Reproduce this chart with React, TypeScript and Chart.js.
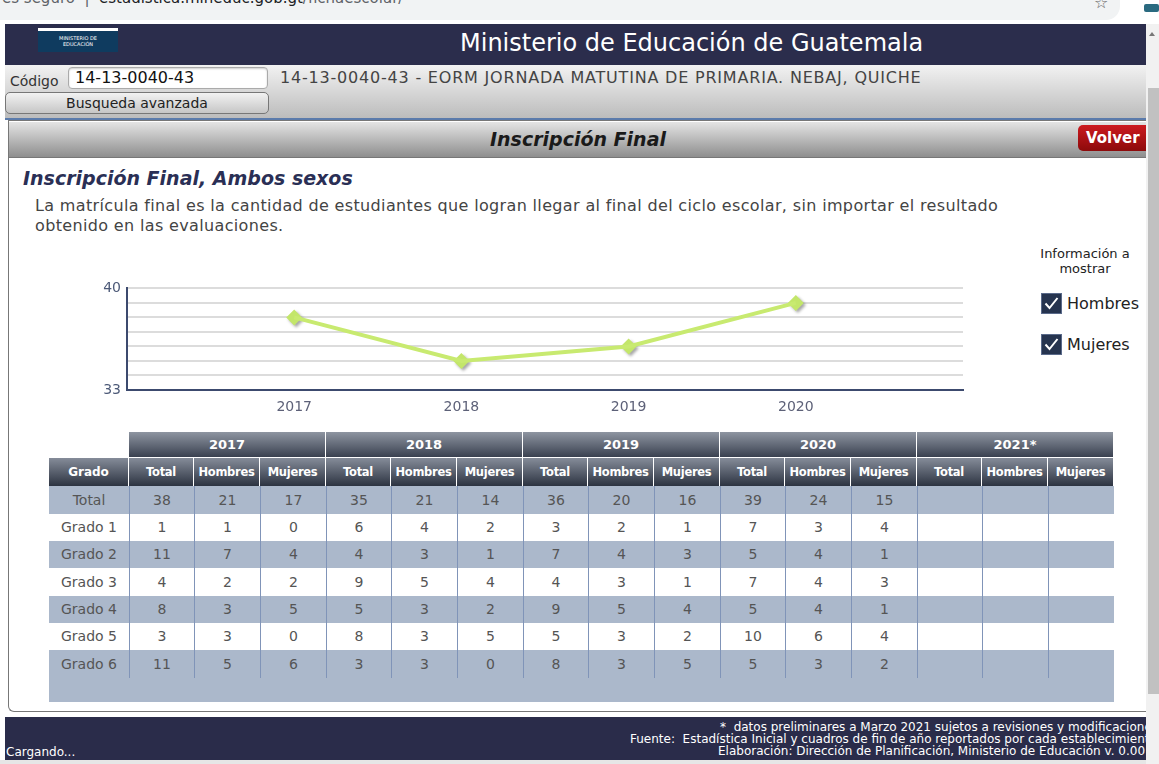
import React, { useEffect, useRef } from 'react';
import { Chart, registerables } from 'chart.js';
Chart.register(...registerables);

// ---- chart data ----
const chartYears = [2017, 2018, 2019, 2020];
const chartTotals = [38, 35, 36, 39];
const yGridValues = [33, 34, 35, 36, 37, 38, 39, 40];
const yTickLabels = [33, 40];

// ---- table data ----
const tableYears = ['2017', '2018', '2019', '2020', '2021*'];
const subColumns = ['Total', 'Hombres', 'Mujeres'];
const grades = ['Total', 'Grado 1', 'Grado 2', 'Grado 3', 'Grado 4', 'Grado 5', 'Grado 6'];
const total2017 = [38, 1, 11, 4, 8, 3, 11];
const hombres2017 = [21, 1, 7, 2, 3, 3, 5];
const mujeres2017 = [17, 0, 4, 2, 5, 0, 6];
const total2018 = [35, 6, 4, 9, 5, 8, 3];
const hombres2018 = [21, 4, 3, 5, 3, 3, 3];
const mujeres2018 = [14, 2, 1, 4, 2, 5, 0];
const total2019 = [36, 3, 7, 4, 9, 5, 8];
const hombres2019 = [20, 2, 4, 3, 5, 3, 3];
const mujeres2019 = [16, 1, 3, 1, 4, 2, 5];
const total2020 = [39, 7, 5, 7, 5, 10, 5];
const hombres2020 = [24, 3, 4, 4, 4, 6, 3];
const mujeres2020 = [15, 4, 1, 3, 1, 4, 2];
const total2021: (number | null)[] = [null, null, null, null, null, null, null];
const hombres2021: (number | null)[] = [null, null, null, null, null, null, null];
const mujeres2021: (number | null)[] = [null, null, null, null, null, null, null];

const yearColumns = [
  [total2017, hombres2017, mujeres2017],
  [total2018, hombres2018, mujeres2018],
  [total2019, hombres2019, mujeres2019],
  [total2020, hombres2020, mujeres2020],
  [total2021, hombres2021, mujeres2021],
];

const FONT = '"DejaVu Sans", Verdana, sans-serif';
const ROW_H = [28, 27, 27, 28, 27, 27, 28];
const GRADE_W = 80;
const SUB_W = [65, 66, 66];

const shadowPlugin = {
  id: 'pointShadow',
  beforeDatasetDraw(chart: any, args: any) {
    if (args.index === 1) {
      const ctx = chart.ctx;
      ctx.save();
      ctx.shadowColor = 'rgba(0,0,0,0.35)';
      ctx.shadowOffsetX = 2;
      ctx.shadowOffsetY = 2;
      ctx.shadowBlur = 3;
    }
  },
  afterDatasetDraw(chart: any, args: any) {
    if (args.index === 1) chart.ctx.restore();
  },
};

function LineChart() {
  const ref = useRef<HTMLCanvasElement>(null);
  useEffect(() => {
    if (!ref.current) return;
    const pts = chartYears.map((y, i) => ({ x: y, y: chartTotals[i] }));
    const chart = new Chart(ref.current, {
      type: 'line',
      data: {
        datasets: [
          {
            data: pts,
            borderColor: '#c8ea70',
            borderWidth: 4,
            pointRadius: 0,
            tension: 0,
          },
          {
            data: pts,
            showLine: false,
            pointStyle: 'rectRot',
            pointRadius: 8,
            pointBorderWidth: 0,
            pointBackgroundColor: '#c3e66a',
            borderColor: '#c3e66a',
          },
        ],
      },
      options: {
        animation: false,
        responsive: false,
        maintainAspectRatio: false,
        layout: { padding: { left: 0, right: 10, top: 10, bottom: 0 } },
        plugins: { legend: { display: false }, tooltip: { enabled: false } },
        scales: {
          x: {
            type: 'linear',
            min: 2016,
            max: 2021,
            ticks: {
              stepSize: 1,
              autoSkip: false,
              maxRotation: 0,
              padding: 1,
              color: '#5d6178',
              font: { family: FONT, size: 14 },
              callback: (v: any) => (chartYears.includes(Number(v)) ? String(v) : ''),
            },
            grid: { display: false },
            border: { color: '#3c4a6e', width: 2 },
            afterFit: (s: any) => {
              s.height = 32;
            },
          },
          y: {
            min: 33,
            max: 40,
            afterBuildTicks: (s: any) => {
              s.ticks = yGridValues.map((v) => ({ value: v }));
            },
            ticks: {
              autoSkip: false,
              padding: 6,
              color: '#4d5a78',
              font: { family: FONT, size: 14 },
              callback: (v: any) => (yTickLabels.includes(Number(v)) ? String(v) : ''),
            },
            grid: { color: '#dcdcdc', lineWidth: 2, drawTicks: false },
            border: { color: '#3c4a6e', width: 2 },
            afterFit: (s: any) => {
              s.width = 60;
            },
          },
        },
      },
      plugins: [shadowPlugin],
    } as any);
    return () => chart.destroy();
  }, []);
  return (
    <canvas
      ref={ref}
      width={906}
      height={148}
      style={{ position: 'absolute', left: 67, top: 274, width: 906, height: 148 }}
    />
  );
}

function CheckBox({ top, label }: { top: number; label: string }) {
  return (
    <>
      <div
        style={{
          position: 'absolute',
          left: 1041,
          top,
          width: 21,
          height: 21,
          background: '#26344f',
          border: '1px solid #5a6a8a',
          boxSizing: 'border-box',
        }}
      >
        <svg width="19" height="19" viewBox="0 0 19 19" style={{ display: 'block' }}>
          <path d="M3.5 9.5 L7.5 14 L15.5 4" stroke="#fff" strokeWidth="2" fill="none" />
        </svg>
      </div>
      <div style={{ position: 'absolute', left: 1067, top: top + 1, fontSize: 16, color: '#222', lineHeight: '19px' }}>
        {label}
      </div>
    </>
  );
}

const headGrad = 'linear-gradient(#858c99, #2c3341)';
const yearGrad = 'linear-gradient(#8e95a1, #3a4150)';

function DataTable() {
  const yearW = SUB_W.reduce((a, b) => a + b, 0);
  const totalW = GRADE_W + yearW * tableYears.length;
  return (
    <div style={{ position: 'absolute', left: 49, top: 432, width: totalW }}>
      <div style={{ display: 'flex', height: 26 }}>
        <div style={{ width: GRADE_W }} />
        {tableYears.map((y) => (
          <div
            key={y}
            style={{
              width: yearW,
              boxSizing: 'border-box',
              background: yearGrad,
              color: '#fff',
              fontWeight: 'bold',
              fontSize: 13,
              textAlign: 'center',
              lineHeight: '26px',
              borderRight: '1px solid #fff',
              borderBottom: '1px solid #fff',
            }}
          >
            {y}
          </div>
        ))}
      </div>
      <div style={{ display: 'flex', height: 28 }}>
        <div
          style={{
            width: GRADE_W,
            boxSizing: 'border-box',
            background: headGrad,
            color: '#fff',
            fontWeight: 'bold',
            fontSize: 12,
            textAlign: 'center',
            lineHeight: '28px',
            borderRight: '1px solid #fff',
          }}
        >
          Grado
        </div>
        {tableYears.map((y) =>
          subColumns.map((c, j) => (
            <div
              key={y + c}
              style={{
                width: SUB_W[j],
                boxSizing: 'border-box',
                background: headGrad,
                color: '#fff',
                fontWeight: 'bold',
                fontSize: 11.5,
                letterSpacing: -0.3,
                textAlign: 'center',
                lineHeight: '28px',
                borderRight: '1px solid #fff',
                whiteSpace: 'nowrap',
                overflow: 'hidden',
              }}
            >
              {c}
            </div>
          ))
        )}
      </div>
      {grades.map((g, r) => (
        <div
          key={g}
          style={{ display: 'flex', height: ROW_H[r], background: r % 2 === 0 ? '#abb8cb' : '#ffffff' }}
        >
          <div style={{ width: GRADE_W, textAlign: 'center', fontSize: 14, color: '#555', lineHeight: ROW_H[r] + 'px' }}>
            {g}
          </div>
          {yearColumns.map((cols, yi) =>
            cols.map((col, j) => (
              <div
                key={yi + '-' + j}
                style={{
                  width: SUB_W[j],
                  boxSizing: 'border-box',
                  borderLeft: '1px solid #8094b8',
                  textAlign: 'center',
                  fontSize: 14,
                  color: '#555',
                  lineHeight: ROW_H[r] + 'px',
                }}
              >
                {col[r] === null ? '' : col[r]}
              </div>
            ))
          )}
        </div>
      ))}
      <div style={{ height: 24, background: '#abb8cb' }} />
    </div>
  );
}

export default function App() {
  return (
    <div
      style={{
        position: 'fixed',
        left: 0,
        top: 0,
        width: 1159,
        height: 764,
        overflow: 'hidden',
        background: '#fff',
        fontFamily: FONT,
      }}
    >
      {/* browser bar */}
      <div style={{ position: 'absolute', left: 0, top: 0, width: 1120, height: 20, background: '#f1f3f4', borderRadius: '0 0 14px 0', overflow: 'hidden' }}>
        <div style={{ position: 'absolute', left: 2, top: -11, fontSize: 15, color: '#5f6368', whiteSpace: 'nowrap' }}>
          es seguro &nbsp;|&nbsp; <span style={{ color: '#202124' }}>estadistica.mineduc.gob.gt</span>/fichaescolar/
        </div>
      </div>
      <div style={{ position: 'absolute', left: 1094, top: -7, fontSize: 16, color: '#666' }}>☆</div>
      <div style={{ position: 'absolute', left: 1144, top: 4, width: 15, height: 8, background: '#2a6a80', borderRadius: 2 }} />

      {/* header */}
      <div style={{ position: 'absolute', left: 5, top: 24, width: 1141, height: 41, background: '#2b2d4c', overflow: 'hidden' }}>
        <div style={{ position: 'absolute', left: 520, top: -31, fontSize: 30, color: '#fff', whiteSpace: 'nowrap' }}>Ficha Escolar</div>
        <div style={{ position: 'absolute', left: 33, top: 4, width: 80, height: 24, background: '#0f3b5f' }}>
          <div style={{ height: 3, background: '#fff' }} />
          <div style={{ fontSize: 5, color: '#fff', textAlign: 'center', lineHeight: '6px', marginTop: 4 }}>
            MINISTERIO DE
            <br />
            EDUCACIÓN
          </div>
        </div>
        <div style={{ position: 'absolute', left: 455, top: 4, fontSize: 24, color: '#fff', whiteSpace: 'nowrap', lineHeight: '30px' }}>
          Ministerio de Educación de Guatemala
        </div>
      </div>

      {/* search bar */}
      <div
        style={{
          position: 'absolute',
          left: 5,
          top: 65,
          width: 1141,
          height: 53,
          background: 'linear-gradient(#f2f2f2, #bcbcbc)',
          borderBottom: '2px solid #5b7bab',
        }}
      >
        <div style={{ position: 'absolute', left: 5, top: 8, fontSize: 14, color: '#333' }}>Código</div>
        <div
          style={{
            position: 'absolute',
            left: 63,
            top: 2,
            width: 200,
            height: 22,
            boxSizing: 'border-box',
            background: '#fff',
            border: '1px solid #aaa',
            borderRadius: 4,
            boxShadow: 'inset 0 1px 2px rgba(0,0,0,0.2)',
            fontSize: 16,
            color: '#111',
            paddingLeft: 6,
            lineHeight: '20px',
          }}
        >
          14-13-0040-43
        </div>
        <div style={{ position: 'absolute', left: 275, top: 3, fontSize: 16, letterSpacing: 0.8, color: '#444', whiteSpace: 'nowrap' }}>
          14-13-0040-43 - EORM JORNADA MATUTINA DE PRIMARIA. NEBAJ, QUICHE
        </div>
        <div
          style={{
            position: 'absolute',
            left: 0,
            top: 27,
            width: 264,
            height: 22,
            boxSizing: 'border-box',
            border: '1px solid #777',
            borderRadius: 5,
            background: 'linear-gradient(#f2f2f2, #c6c6c6)',
            textAlign: 'center',
            fontSize: 14,
            color: '#222',
            lineHeight: '20px',
          }}
        >
          Busqueda avanzada
        </div>
      </div>

      {/* panel */}
      <div
        style={{
          position: 'absolute',
          left: 8,
          top: 120,
          width: 1138,
          height: 592,
          boxSizing: 'border-box',
          border: '1px solid #777',
          borderRight: 'none',
          borderBottomLeftRadius: 6,
          background: '#fff',
          overflow: 'hidden',
        }}
      >
        <div
          style={{
            position: 'absolute',
            left: 0,
            top: 1,
            width: 1138,
            height: 35,
            background: 'linear-gradient(#e4e4e4, #8e8e8e)',
            borderBottom: '1px solid #777',
            textAlign: 'center',
            fontSize: 19,
            fontWeight: 'bold',
            fontStyle: 'italic',
            color: '#1a1a1a',
            lineHeight: '35px',
          }}
        >
          Inscripción Final
        </div>
        <div
          style={{
            position: 'absolute',
            left: 1069,
            top: 4,
            width: 74,
            height: 26,
            borderRadius: 5,
            background: 'linear-gradient(#cc1a1f, #8c0a0b)',
            color: '#fff',
            fontWeight: 'bold',
            fontSize: 15,
            lineHeight: '26px',
            paddingLeft: 8,
            boxSizing: 'border-box',
          }}
        >
          Volver
        </div>
      </div>

      <div style={{ position: 'absolute', left: 23, top: 167, fontSize: 19, fontWeight: 'bold', fontStyle: 'italic', color: '#2a2f55', whiteSpace: 'nowrap' }}>
        Inscripción Final, Ambos sexos
      </div>
      <div style={{ position: 'absolute', left: 35, top: 196, fontSize: 16, letterSpacing: 0.35, color: '#444', lineHeight: '20px', whiteSpace: 'nowrap' }}>
        La matrícula final es la cantidad de estudiantes que logran llegar al final del ciclo escolar, sin importar el resultado
        <br />
        obtenido en las evaluaciones.
      </div>

      <LineChart />

      <div style={{ position: 'absolute', left: 1020, top: 246, width: 130, textAlign: 'center', fontSize: 13, color: '#222', lineHeight: '15px' }}>
        Información a
        <br />
        mostrar
      </div>
      <CheckBox top={293} label="Hombres" />
      <CheckBox top={334} label="Mujeres" />

      <DataTable />

      {/* footer */}
      <div style={{ position: 'absolute', left: 5, top: 717, width: 1141, height: 43, background: '#2a2c4a', overflow: 'hidden', color: '#fff', fontSize: 12 }}>
        <div style={{ position: 'absolute', left: 715, top: 4, whiteSpace: 'nowrap', lineHeight: '12px' }}>
          *&nbsp; datos preliminares a Marzo 2021 sujetos a revisiones y modificaciones
        </div>
        <div style={{ position: 'absolute', left: 625, top: 16, whiteSpace: 'nowrap', lineHeight: '12px' }}>
          Fuente:&nbsp; Estadística Inicial y cuadros de fin de año reportados por cada establecimiento
        </div>
        <div style={{ position: 'absolute', left: 713, top: 28, whiteSpace: 'nowrap', lineHeight: '12px' }}>
          Elaboración: Dirección de Planificación, Ministerio de Educación v. 0.00
        </div>
        <div style={{ position: 'absolute', left: 1, top: 29, whiteSpace: 'nowrap', lineHeight: '12px' }}>Cargando...</div>
      </div>
      <div style={{ position: 'absolute', left: 0, top: 760, width: 1159, height: 4, background: '#e6e6e6' }} />

      {/* scrollbar */}
      <div style={{ position: 'absolute', left: 1146, top: 24, width: 13, height: 740, background: '#f1f1f1' }}>
        <div style={{ position: 'absolute', left: 3, top: 8, width: 0, height: 0, borderLeft: '3.5px solid transparent', borderRight: '3.5px solid transparent', borderBottom: '4px solid #777' }} />
        <div style={{ position: 'absolute', left: 2, top: 64, width: 11, height: 606, background: '#c1c1c1' }} />
      </div>
    </div>
  );
}
